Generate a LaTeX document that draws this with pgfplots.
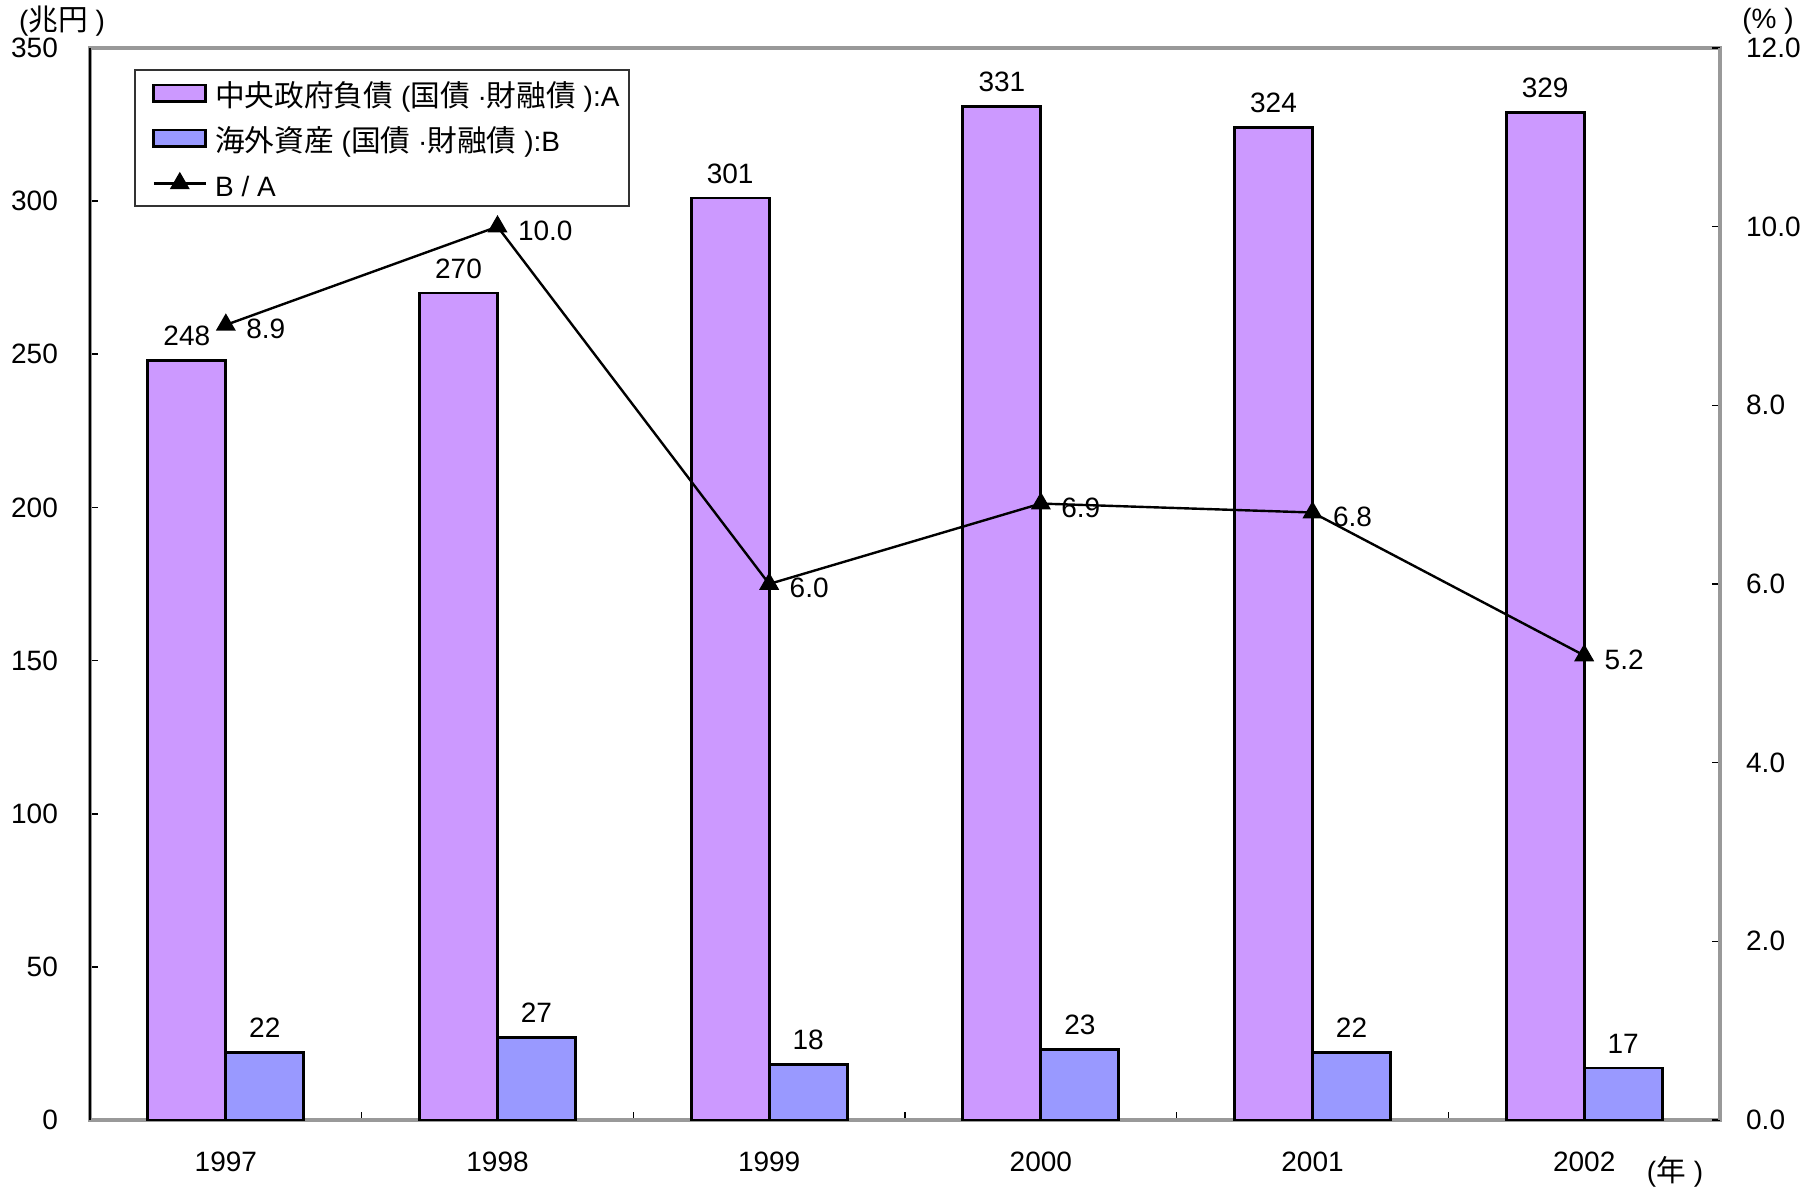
\documentclass[border=0pt]{standalone}
\usepackage{pgfplots}
\pgfplotsset{compat=1.18}
\usepackage{fontspec}
\setmainfont{Liberation Sans}
\newfontfamily\cjk[Scale=1.06]{Noto Sans CJK JP}

\definecolor{debtA}{HTML}{CC99FF}
\definecolor{assetB}{HTML}{9999FF}
\newcommand\fsz{\fontsize{7pt}{8.5pt}\selectfont}

\begin{document}
\begin{tikzpicture}[font=\fsz]
% bars: central government debt (A) and overseas assets (B), trillion yen
\begin{axis}[
  at={(0,0)}, anchor=south west,
  scale only axis, width=407.5pt, height=268pt,
  xmin=-0.5, xmax=5.5, ymin=0, ymax=350,
  ybar=0pt, bar width=0.287,
  xtick={0,1,2,3,4,5},
  xticklabels={1997,1998,1999,2000,2001,2002},
  major x tick style={draw=none},
  minor xtick={0.5,1.5,2.5,3.5,4.5},
  ytick={0,50,...,350},
  xtick pos=bottom, ytick pos=left,
  tick align=inside, major tick length=2pt, minor tick length=2pt,
  tick style={black, line width=0.4pt},
  axis line style={draw=gray!80, line width=0.8pt},
  tick label style={font=\fsz},
  xticklabel style={yshift=-4.5pt},
  yticklabel style={xshift=-4.5pt},
  /pgf/number format/assume math mode=true,
  nodes near coords,
  every node near coord/.append style={font=\fsz, black},
  clip=false,
]
\addplot[fill=debtA, draw=black, line width=0.7pt]
  coordinates {(0,248) (1,270) (2,301) (3,331) (4,324) (5,329)};
\addplot[fill=assetB, draw=black, line width=0.7pt]
  coordinates {(0,22) (1,27) (2,18) (3,23) (4,22) (5,17)};
\draw[black, line width=0.5pt] (rel axis cs:0,0) -- (rel axis cs:0,1);
\coordinate (bl) at (rel axis cs:0,0);
\coordinate (tr) at (rel axis cs:1,1);
\node at ([xshift=-7pt,yshift=6.75pt]rel axis cs:0,1) {({\cjk 兆円} )};
\node at ([xshift=12pt,yshift=6.75pt]rel axis cs:1,1) {(\% )};
\node at ([xshift=-11.25pt,yshift=-13pt]rel axis cs:1,0) {({\cjk 年} )};
\end{axis}
% ratio B/A in percent on the right-hand axis
\begin{axis}[
  at={(0,0)}, anchor=south west,
  scale only axis, width=407.5pt, height=268pt,
  xmin=-0.5, xmax=5.5, ymin=0, ymax=12,
  axis x line=none, axis y line*=right,
  ytick={0,2,...,12},
  tick align=inside, major tick length=2pt,
  tick style={black, line width=0.4pt},
  axis line style={draw=gray!80, line width=0.8pt},
  tick label style={font=\fsz},
  yticklabel style={xshift=3pt, /pgf/number format/.cd, fixed, fixed zerofill, precision=1},
  /pgf/number format/assume math mode=true,
  legend style={at={(0.027,0.980)}, anchor=north west, draw=black!80,
    line width=0.5pt, fill=white, font=\fsz, row sep=1.75pt,
    inner xsep=0.5pt, inner ysep=1pt,
    nodes={inner ysep=1pt, text height=6.9pt, text depth=0.6pt},
    column 2/.style={nodes={inner xsep=0.3pt}}},
  legend cell align=left,
  clip=false,
]
\addlegendimage{legend image code/.code={
  \path (0pt,0pt);
  \draw[fill=debtA, draw=black, line width=0.7pt] (3.9pt,-2.1pt) rectangle (16.9pt,2.1pt);}}
\addlegendentry{{\cjk 中央政府負債} ({\cjk 国債} ·{\cjk 財融債} ):A}
\addlegendimage{legend image code/.code={
  \path (0pt,0pt);
  \draw[fill=assetB, draw=black, line width=0.7pt] (3.9pt,-2.1pt) rectangle (16.9pt,2.1pt);}}
\addlegendentry{{\cjk 海外資産} ({\cjk 国債} ·{\cjk 財融債} ):B}
\addplot[black, line width=0.6pt, mark=triangle*, mark size=2.3pt,
  mark options={fill=black},
  nodes near coords={\pgfmathprintnumber[fixed,fixed zerofill,precision=1]{\pgfplotspointmeta}},
  every node near coord/.append style={font=\fsz, anchor=west, xshift=1.5pt, yshift=-1pt},
  legend image code/.code={
    \path (0pt,0pt);
    \draw[line width=0.6pt] (3.9pt,0pt) -- (16.9pt,0pt);
    \fill (10.4pt,0pt) ++(90:2.3pt) -- ++(-120:3.98pt) -- ++(0:3.98pt) -- cycle;}]
  coordinates {(0,8.9) (1,10.0) (2,6.0) (3,6.9) (4,6.8) (5,5.2)};
\addlegendentry{B / A}
\end{axis}
\pgfresetboundingbox
\useasboundingbox ([shift={(-22.5pt,-18pt)}]bl) rectangle ([shift={(22.25pt,12pt)}]tr);
\end{tikzpicture}
\end{document}
